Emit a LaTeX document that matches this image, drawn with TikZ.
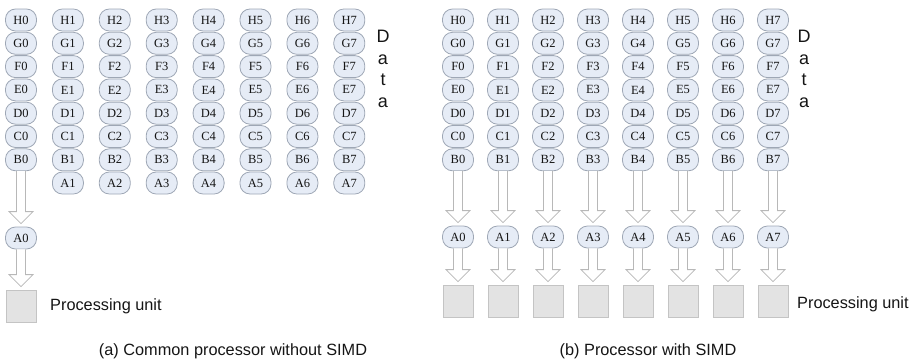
\documentclass[tikz,border=0pt]{standalone}
\usepackage{fontspec}
\setmainfont{Liberation Serif}
\newfontfamily\labelfont{Liberation Sans}
\usetikzlibrary{calc}
\definecolor{ovalfill}{HTML}{E6ECF6}
\definecolor{ovaldraw}{HTML}{9EA7B5}
\definecolor{boxfill}{HTML}{E3E3E3}
\definecolor{boxdraw}{HTML}{C4C4C4}
\definecolor{arrowdraw}{HTML}{B8B8B8}
\definecolor{txt}{HTML}{151515}
\tikzset{
  elem/.style={draw=ovaldraw, fill=ovalfill, rounded corners=10pt, minimum width=31pt, minimum height=22pt, inner sep=0pt, font=\fontsize{12.5}{12.5}\selectfont, text=txt, line width=0.8pt},
  pubox/.style={draw=boxdraw, fill=boxfill, minimum width=30pt, minimum height=32pt, inner sep=0pt, line width=0.8pt},
  lbl/.style={font=\labelfont\fontsize{16.3}{18}\selectfont, text=txt, inner sep=0pt},
  dlbl/.style={font=\labelfont\fontsize{18}{18}\selectfont, text=txt, inner sep=0pt},
  fat/.style={draw=arrowdraw, fill=white, line width=0.8pt, line join=miter},
}
\newcommand\fatarrow[2]{%
  \draw[fat] ($(#1.south)+(-4.5,0)$) -- ($(#2.north)+(-4.5,-15)$) -- ($(#2.north)+(-12,-15)$) -- ($(#2.north)+(0,-3)$) -- ($(#2.north)+(12,-15)$) -- ($(#2.north)+(4.5,-15)$) -- ($(#1.south)+(4.5,0)$);}
\begin{document}
\begin{tikzpicture}[x=1pt,y=-1pt]
\useasboundingbox (0,0) rectangle (918,359);
% data grids
\foreach \r [count=\k from 0] in {H,G,F,E,D,C,B}{
  \foreach \c in {0,...,7}{
    \node[elem] (l\r\c) at ({21+46.9*\c},{20+23.3*\k}) {\r\c};
    \node[elem] (r\r\c) at ({458+45*\c},{20+23.3*\k}) {\r\c};
  }}
% left panel
\foreach \c in {1,...,7}{\node[elem] (lA\c) at ({21+46.9*\c},183) {A\c};}
\node[elem] (lA0) at (21,238) {A0};
\node[pubox] (lpu) at (21,306) {};
\fatarrow{lB0}{lA0}
\fatarrow{lA0}{lpu}
\node[lbl, anchor=base west] (lput) at (50,310) {Processing unit};
\node[dlbl, anchor=base] (ld1) at (383,42) {D};
\node[dlbl, anchor=base] (ld2) at (383,64) {a};
\node[dlbl, anchor=base] (ld3) at (383,85.5) {t};
\node[dlbl, anchor=base] (ld4) at (383,107) {a};
\node[lbl, anchor=base] (lcap) at (233,355) {(a) Common processor without SIMD};
% right panel
\foreach \c in {0,...,7}{
  \node[elem] (rA\c) at ({458+45*\c},237) {A\c};
  \node[pubox] (rpu\c) at ({458+45*\c},301) {};
  \fatarrow{rB\c}{rA\c}
  \fatarrow{rA\c}{rpu\c}
}
\node[lbl, anchor=base west] (rput) at (797,308) {Processing unit};
\node[dlbl, anchor=base] (rd1) at (804,42) {D};
\node[dlbl, anchor=base] (rd2) at (804,64) {a};
\node[dlbl, anchor=base] (rd3) at (804,85.5) {t};
\node[dlbl, anchor=base] (rd4) at (804,107) {a};
\node[lbl, anchor=base] (rcap) at (648,355) {(b) Processor with SIMD};
\end{tikzpicture}
\end{document}
